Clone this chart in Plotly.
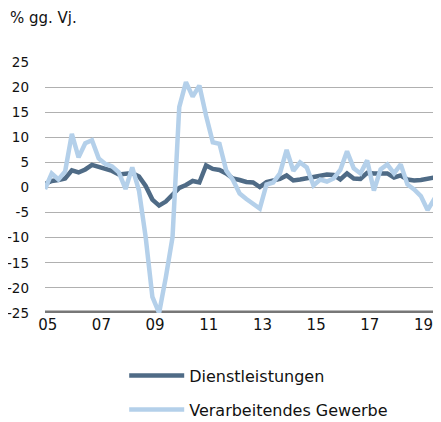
import plotly.graph_objects as go

# Quarterly, 2005Q1 .. 2019Q4
quarters = [f"{y}Q{q}" for y in range(2005, 2020) for q in range(1, 5)]

dienstleistungen = [
    0.7, 1.3, 1.5, 1.8, 3.4, 3.0, 3.6, 4.5, 4.1, 3.7, 3.3, 2.6,
    2.8, 2.9, 2.2, 0.3, -2.4, -3.6, -2.8, -1.5, -0.1, 0.5, 1.3, 1.0,
    4.4, 3.7, 3.5, 2.8, 1.8, 1.5, 1.1, 1.0, 0.1, 1.1, 1.4, 1.7,
    2.4, 1.4, 1.6, 1.9, 2.2, 2.5, 2.6, 2.5, 1.6, 2.8, 1.8, 1.7,
    2.9, 2.8, 2.8, 2.8, 2.0, 2.4, 1.6, 1.4, 1.5, 1.7, 2.0, 1.7,
]

verarbeitendes_gewerbe = [
    -0.3, 2.8, 1.6, 3.2, 10.7, 6.0, 8.8, 9.4, 5.8, 4.7, 4.2, 3.0,
    -0.3, 4.0, -0.6, -9.9, -21.8, -25.0, -17.9, -9.9, 16.0, 21.0, 18.1, 20.3,
    14.3, 9.0, 8.7, 3.4, 1.5, -1.2, -2.3, -3.2, -4.2, 0.6, 1.0, 2.8,
    7.5, 3.3, 5.0, 4.0, 0.4, 1.6, 1.2, 1.8, 3.5, 7.2, 3.8, 2.8,
    5.4, -0.6, 3.6, 4.6, 2.8, 4.6, 0.6, -0.4, -1.7, -4.5, -2.3, -4.2,
]

x_labels = ["05", "07", "09", "11", "13", "15", "17", "19"]
y_ticks = [25, 20, 15, 10, 5, 0, -5, -10, -15, -20, -25]

idx = list(range(len(quarters)))
tick_pos = [8 * k + 0.4 for k in range(len(x_labels))]

FONT = "DejaVu Sans, Liberation Sans, Arial, sans-serif"
DARK = "#4f6b86"
LIGHT = "#b4d0ea"

fig = go.Figure()
fig.add_trace(go.Scatter(
    x=idx, y=dienstleistungen, mode="lines", name="Dienstleistungen",
    line=dict(color=DARK, width=4.5), legendgroup="a",
    customdata=quarters,
))
fig.add_trace(go.Scatter(
    x=idx, y=verarbeitendes_gewerbe, mode="lines", name="Verarbeitendes Gewerbe",
    line=dict(color=LIGHT, width=4.5), legendgroup="b",
    customdata=quarters,
))

fig.update_layout(
    width=433, height=414,
    margin=dict(l=37, r=0, t=54, b=109, autoexpand=False),
    paper_bgcolor="white", plot_bgcolor="white",
    font=dict(family=FONT, size=15, color="#111111"),
    showlegend=True,
    legend=dict(
        x=0.2, y=-0.182, xanchor="left", yanchor="top",
        orientation="v", traceorder="grouped",
        font=dict(family=FONT, size=16, color="#111111"),
        itemwidth=55, tracegroupgap=10,
        bgcolor="rgba(0,0,0,0)",
    ),
    annotations=[dict(
        text="% gg. Vj.", xref="paper", yref="paper",
        x=-0.093, y=1.175, xanchor="left", yanchor="middle",
        showarrow=False, font=dict(family=FONT, size=15, color="#111111"),
    )],
)
fig.update_xaxes(
    range=[0, len(quarters) - 1],
    tickmode="array", tickvals=tick_pos, ticktext=x_labels,
    showgrid=False, zeroline=False, showline=False, ticks="",
    tickfont=dict(size=15), ticklabelstandoff=1, automargin=False,
)
fig.update_yaxes(
    range=[-25, 25], tickmode="array", tickvals=y_ticks,
    ticktext=[str(v) for v in y_ticks],
    showgrid=True, gridcolor="#b0b0b0", gridwidth=1.3,
    zeroline=False, showline=False, ticks="",
    tickfont=dict(size=13.5), ticklabelstandoff=15, automargin=False,
)
# thick bottom axis line at -25
fig.add_shape(type="line", xref="paper", yref="y", x0=0, x1=1, y0=-25, y1=-25,
              line=dict(color="#777777", width=5), layer="below")

fig.write_html("out.html")
